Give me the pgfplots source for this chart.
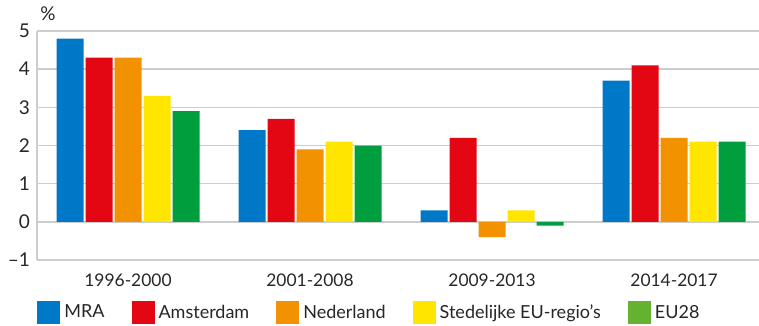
\documentclass[border=0pt]{standalone}
\usepackage{fontspec}
\setmainfont{Lato}
\usepackage{pgfplots}
\pgfplotsset{compat=1.18}

\definecolor{cMRA}{RGB}{0,120,200}
\definecolor{cAms}{RGB}{227,6,19}
\definecolor{cNed}{RGB}{243,146,0}
\definecolor{cSte}{RGB}{255,229,0}
\definecolor{cEU}{RGB}{0,158,61}
\definecolor{cEUleg}{RGB}{101,178,46}
\definecolor{gridgrey}{RGB}{205,205,205}

\begin{document}
\begin{tikzpicture}
\useasboundingbox (-18.5pt,-33pt) rectangle (361pt,130pt);
\begin{axis}[
  scale only axis,
  width=361pt, height=114.5pt,
  ybar=1pt, bar width=13.5pt,
  xmin=-0.5, xmax=3.467,
  ymin=-1, ymax=5,
  ytick={-1,0,1,2,3,4,5},
  yticklabels={--1,0,1,2,3,4,5},
  xtick=data,
  xticklabels={1996-2000,2001-2008,2009-2013,2014-2017},
  axis lines*=left,
  axis line style={gridgrey, line width=0.8pt},
  x axis line style={draw=none},
  ymajorgrids,
  grid style={gridgrey, line width=0.8pt},
  tick style={draw=none},
  tick label style={font=\fontsize{8.7pt}{10pt}\selectfont, text=black!85},
  yticklabel style={font=\fontsize{9.5pt}{11pt}\selectfont},
  xticklabel style={yshift=1pt},
  /pgf/number format/assume math mode=true,
  legend columns=5,
  legend style={at={(0,-0.2314)}, anchor=west, draw=none, inner sep=0pt,
    font=\fontsize{9pt}{10pt}\selectfont, text=black!85,
    /tikz/every even column/.append style={column sep=11.5pt}},
  legend cell align=left,
  legend image code/.code={\fill[#1] (0pt,-5.75pt) rectangle (11.5pt,5.75pt);},
  every axis plot/.append style={draw=none},
  clip=false,
]
\addplot[fill=cMRA] coordinates {(0,4.8) (1,2.4) (2,0.3) (3,3.7)};
\addplot[fill=cAms] coordinates {(0,4.3) (1,2.7) (2,2.2) (3,4.1)};
\addplot[fill=cNed] coordinates {(0,4.3) (1,1.9) (2,-0.4) (3,2.2)};
\addplot[fill=cSte] coordinates {(0,3.3) (1,2.1) (2,0.3) (3,2.1)};
\addplot[fill=cEU, legend image post style={fill=cEUleg}] coordinates {(0,2.9) (1,2.0) (2,-0.1) (3,2.1)};
\legend{MRA,Amsterdam,Nederland,Stedelijke EU-regio’s,EU28}
\node[anchor=south west, inner sep=0pt, font=\fontsize{9.5pt}{11pt}\selectfont, text=black!85] at (rel axis cs:0,1) [xshift=1.5pt, yshift=5pt] {\%};
\end{axis}
\end{tikzpicture}
\end{document}
